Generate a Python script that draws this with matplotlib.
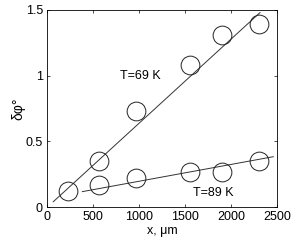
import matplotlib
matplotlib.use("Agg")
import matplotlib.pyplot as plt
import numpy as np

plt.rcParams['font.family'] = ['Liberation Sans', 'DejaVu Sans']

x_pts = [230, 565, 964, 1554, 1906, 2304]
y69 = [0.12, 0.35, 0.73, 1.08, 1.31, 1.39]
x89 = [565, 964, 1554, 1906, 2304]
y89 = [0.17, 0.22, 0.27, 0.27, 0.35]

fit69_x = [68, 2315]
fit69_y = [0.04, 1.48]
fit89_x = [384, 2460]
fit89_y = [0.117, 0.383]

xticks = [0, 500, 1000, 1500, 2000, 2500]
yticks = [0, 0.5, 1, 1.5]
yticklabels = ["0", "0.5", "1", "1.5"]

fig = plt.figure(figsize=(2.94, 2.41), dpi=100)
ax = fig.add_axes([47/294, 1-207/241, (277-47)/294, (207-10)/241])

ax.plot(fit69_x, fit69_y, color="#333333", lw=0.7)
ax.plot(fit89_x, fit89_y, color="#333333", lw=0.7)
ax.plot(x_pts, y69, ls="none", marker="o", ms=13.5, mfc="none", mec="#222222", mew=0.7)
ax.plot(x89, y89, ls="none", marker="o", ms=13.5, mfc="none", mec="#222222", mew=0.7)

ax.text(793, 1.0, "T=69 K", fontsize=9, va="center", ha="left")
ax.text(1587, 0.107, "T=89 K", fontsize=9, va="center", ha="left")

ax.set_xlim(0, 2500)
ax.set_ylim(0, 1.5)
ax.set_xticks(xticks)
ax.set_yticks(yticks)
ax.set_yticklabels(yticklabels)
ax.tick_params(direction="in", top=True, right=True, labelsize=9, length=2.5, width=0.5, pad=3)
for s in ax.spines.values():
    s.set_linewidth(0.6)
ax.set_xlabel("x, μm", fontsize=9, labelpad=1)
ax.set_ylabel("δφ°", fontsize=10, labelpad=0)

fig.savefig("out.png", dpi=100)
